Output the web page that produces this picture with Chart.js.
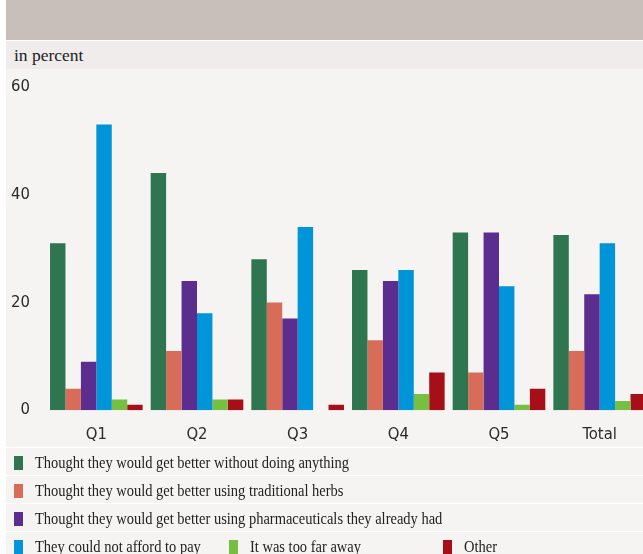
<!DOCTYPE html>
<html>
<head>
<meta charset="utf-8">
<script src="https://cdn.jsdelivr.net/npm/chart.js@4"></script>
<style>
  html, body { margin: 0; padding: 0; background: #fff; overflow: hidden; }
  body { width: 643px; height: 554px; position: relative; }
  #header { position: absolute; left: 6px; top: 0; width: 650px; height: 40px; background: #c8bfbb; }
  #unit { position: absolute; left: 6px; top: 41px; width: 650px; height: 28px; background: #efeceb;
          font-family: "Liberation Serif", serif; font-size: 17.5px; color: #222; line-height: 29px; }
  #unit span { padding-left: 8px; }
  #plot { position: absolute; left: 6px; top: 69px; width: 650px; height: 378px; background: #f5f4f2; }
  #c { position: absolute; left: 6px; top: 61px; z-index: 1; }
  #legend { position: absolute; left: 6px; top: 447px; width: 650px; z-index: 2; }
  .row { height: 27px; margin-top: 1px; background: #f5f4f2; position: relative;
         font-family: "Liberation Serif", serif; font-size: 16px; color: #222; }
  .item { position: absolute; top: 0; height: 27px; line-height: 27px; white-space: nowrap; }
  .sw { position: absolute; top: 8px; width: 9px; height: 14px; }
  .lbl { position: absolute; left: 21px; top: 1px; transform: scaleX(0.905); transform-origin: left center; }
</style>
</head>
<body>
<div id="header"></div>
<div id="unit"><span>in percent</span></div>
<div id="plot"></div>
<canvas id="c" width="644" height="402"></canvas>
<div id="legend"></div>
<script>
"use strict";

/* ── data (percent) ── */
const categories = ["Q1", "Q2", "Q3", "Q4", "Q5", "Total"];
const yTicks = [0, 20, 40, 60];

const noAction   = [31, 44, 28, 26, 33, 32.5];
const herbs      = [4, 11, 20, 13, 7, 11];
const pharma     = [9, 24, 17, 24, 33, 21.5];
const cannotPay  = [53, 18, 34, 26, 23, 31];
const tooFar     = [2, 2, 0, 3, 1, 1.7];
const other      = [1, 2, 1, 7, 4, 3];

const seriesNames = [
  "Thought they would get better without doing anything",
  "Thought they would get better using traditional herbs",
  "Thought they would get better using pharmaceuticals they already had",
  "They could not afford to pay",
  "It was too far away",
  "Other",
];
const seriesData = [noAction, herbs, pharma, cannotPay, tooFar, other];
const seriesColors = ["#2e7550", "#d76d58", "#5b2d8f", "#0094d9", "#76bf42", "#a60e18"];

const tickFont = { family: "'Liberation Sans Narrow', 'DejaVu Sans Condensed', Roboto", size: 16.5 };

/* ── chart ── */
const ctx = document.getElementById("c");
new Chart(ctx, {
  type: "bar",
  data: {
    labels: categories,
    datasets: seriesData.map((d, i) => ({
      label: seriesNames[i],
      data: d,
      backgroundColor: seriesColors[i],
      borderWidth: 0,
      barPercentage: 1.0,
      categoryPercentage: 0.92,
    })),
  },
  options: {
    responsive: false,
    animation: false,
    devicePixelRatio: 1,
    layout: { padding: { top: 17, right: 0, bottom: 3, left: 0 } },
    plugins: { legend: { display: false }, tooltip: { enabled: false } },
    scales: {
      x: {
        grid: { display: false, drawTicks: false },
        border: { display: false },
        ticks: { padding: 15, color: "#2a2a2a", font: tickFont },
      },
      y: {
        min: 0,
        max: 60,
        afterBuildTicks: (s) => { s.ticks = yTicks.map((v) => ({ value: v })); },
        afterFit: (s) => { s.width = 40; },
        grid: { display: false, drawTicks: false },
        border: { display: false },
        ticks: { padding: 16, color: "#2a2a2a", font: tickFont },
      },
    },
  },
});

/* ── legend (HTML, laid out like the original) ── */
const legendRows = [[0], [1], [2], [3, 4, 5]];
const itemX = { 0: 8, 1: 8, 2: 8, 3: 8, 4: 223, 5: 437 };
const legendEl = document.getElementById("legend");
legendRows.forEach((row) => {
  const r = document.createElement("div");
  r.className = "row";
  row.forEach((i) => {
    const it = document.createElement("div");
    it.className = "item";
    it.style.left = itemX[i] + "px";
    it.innerHTML =
      `<span class="sw" style="background:${seriesColors[i]}"></span>` +
      `<span class="lbl">${seriesNames[i]}</span>`;
    r.appendChild(it);
  });
  legendEl.appendChild(r);
});
</script>
</body>
</html>
